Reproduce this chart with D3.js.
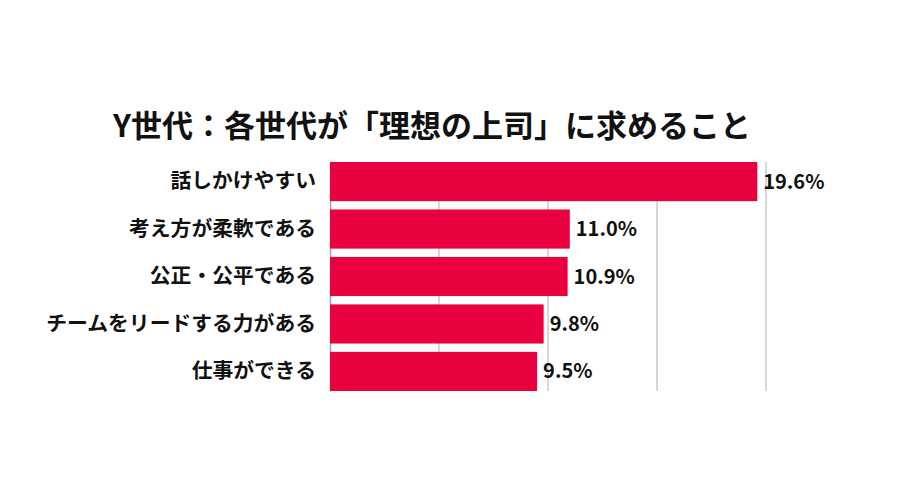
<!DOCTYPE html>
<html>
<head>
<meta charset="utf-8">
<script src="https://cdn.jsdelivr.net/npm/d3@7"></script>
<style>
  body { margin: 0; background: #fff; }
  svg text { font-family: "Noto Sans CJK JP", "Noto Sans", sans-serif; font-weight: bold; fill: #111; }
</style>
</head>
<body>
<div id="graf"></div>
<script>
// I. Datos
titulo = 'Y世代：各世代が「理想の上司」に求めること'
categorias = ['話しかけやすい', '考え方が柔軟である', '公正・公平である', 'チームをリードする力がある', '仕事ができる']
valores = [19.6, 11.0, 10.9, 9.8, 9.5]
ticksX = [0, 5, 10, 15, 20]

// II. Configuración
ancho_total = 900
alto_total = 500
margins = { top: 162, left: 330, right: 134, bottom: 109 }
ancho = ancho_total - margins.left - margins.right
alto = alto_total - margins.top - margins.bottom

svg = d3.select('#graf').append('svg')
  .attr('width', ancho_total)
  .attr('height', alto_total)

svg.append('text')
  .attr('x', 432)
  .attr('y', 137)
  .attr('text-anchor', 'middle')
  .style('font-size', '31px')
  .text(titulo)

g = svg.append('g')
  .attr('transform', `translate(${margins.left}, ${margins.top})`)

x = d3.scaleLinear()
  .domain([0, 20])
  .range([0, ancho])

y = d3.scaleBand()
  .domain(categorias)
  .range([0, alto])
  .paddingInner(0.175)
  .paddingOuter(0)

// rejilla vertical
g.selectAll('line.grid')
  .data(ticksX.slice(1))
  .enter().append('line')
    .attr('class', 'grid')
    .attr('x1', d => x(d))
    .attr('x2', d => x(d))
    .attr('y1', 0)
    .attr('y2', alto)
    .attr('stroke', '#c8c8c8')
    .attr('stroke-width', 1.5)

// eje y (solo la línea y etiquetas)
yAxis = g.append('g')
  .call(d3.axisLeft(y).tickSize(0).tickPadding(14))
yAxis.select('.domain')
  .attr('stroke', '#a6a6a6')
  .attr('stroke-width', 1.5)
yAxis.selectAll('text')
  .style('font-size', '20.8px')
  .attr('fill', '#111')

// barras
g.selectAll('rect')
  .data(valores)
  .enter().append('rect')
    .attr('x', 0)
    .attr('y', (d, i) => y(categorias[i]))
    .attr('width', d => x(d))
    .attr('height', y.bandwidth())
    .attr('fill', '#e9003f')

// etiquetas de valor
g.selectAll('text.valor')
  .data(valores)
  .enter().append('text')
    .attr('class', 'valor')
    .attr('x', d => x(d) + 6)
    .attr('y', (d, i) => y(categorias[i]) + y.bandwidth() / 2)
    .attr('dy', '0.35em')
    .style('font-size', '20px')
    .text(d => d.toFixed(1) + '%')
</script>
</body>
</html>
